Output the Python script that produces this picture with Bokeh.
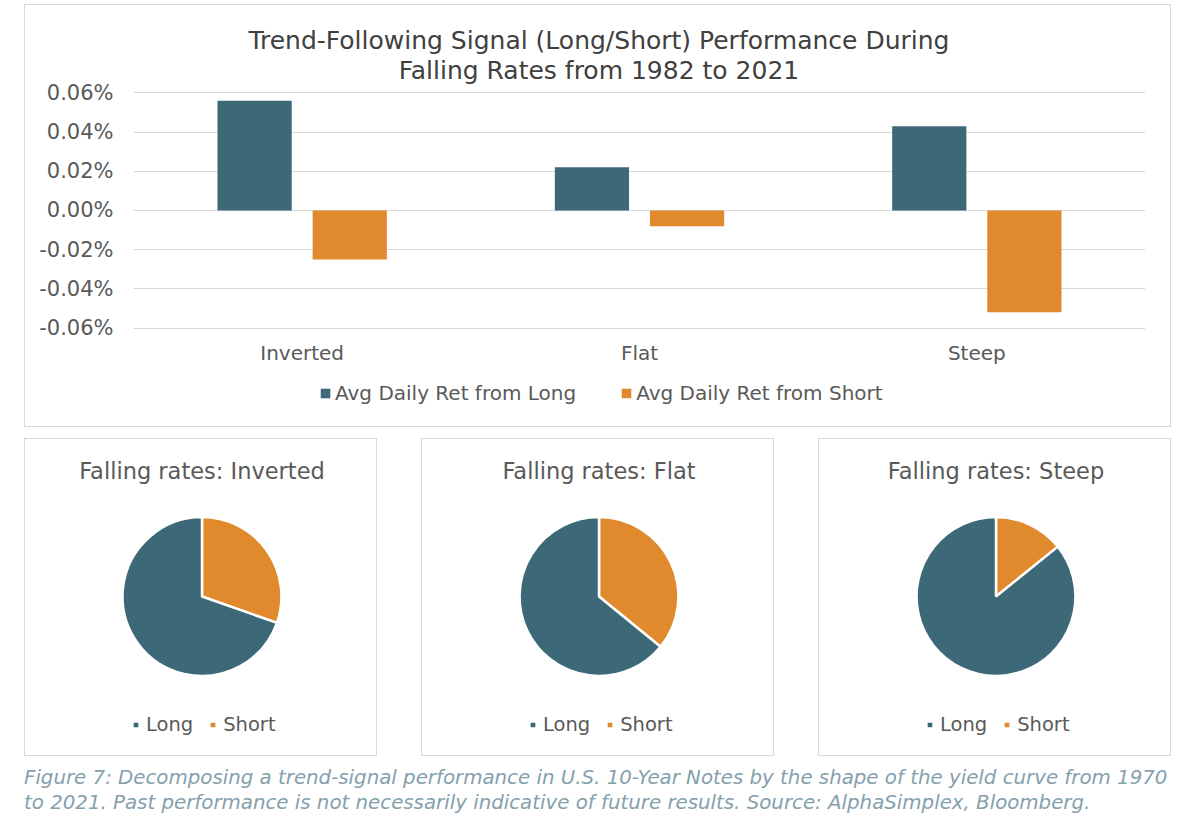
from bokeh.plotting import figure
from bokeh.models import (ColumnDataSource, FactorRange, Range1d, FixedTicker,
                          PrintfTickFormatter, Legend, LegendItem, Div)
from bokeh.transform import dodge
from bokeh.layouts import column, row
from bokeh.embed import file_html
from bokeh.resources import INLINE
from bokeh.core.properties import value
import numpy as np

# ---------------- data ----------------
categories = ["Inverted", "Flat", "Steep"]
ret_long = [0.056, 0.022, 0.043]      # % avg daily return from long signal
ret_short = [-0.025, -0.008, -0.052]  # % avg daily return from short signal
y_ticks = [-0.06, -0.04, -0.02, 0.0, 0.02, 0.04, 0.06]
series_labels = ["Avg Daily Ret from Long", "Avg Daily Ret from Short"]
title_lines = ["Trend-Following Signal (Long/Short) Performance During",
               "Falling Rates from 1982 to 2021"]

pie_titles = ["Falling rates: Inverted", "Falling rates: Flat", "Falling rates: Steep"]
pie_labels = ["Long", "Short"]
share_long = [69.6, 64.1, 85.8]
share_short = [30.4, 35.9, 14.2]

caption_lines = [
    "Figure 7: Decomposing a trend-signal performance in U.S. 10-Year Notes by the shape of the yield curve from 1970",
    "to 2021. Past performance is not necessarily indicative of future results. Source: AlphaSimplex, Bloomberg.",
]

# ---------------- style ----------------
TEAL = "#3c6878"
ORANGE = "#e0892d"
GRID = "#d9d9d9"
TXT = "#595959"
TITLE_C = "#404040"
CAP_C = "#84a0ad"
FONT = "DejaVu Sans"
BOX = {"border": "1px solid #d9d9d9"}

# ---------------- bar chart (layout in pixels) ----------------
BW, BH = 1147, 423            # outer box size
CWB, CHB = BW - 2, BH - 2     # canvas inside the border
LEFT = 108                    # room for y labels
FW = 1010                     # frame width
ZERO = 204                    # px from canvas top to the 0.00% line
PPU = 39 / 0.02               # px per 1 unit (%) on the y axis
y_end = ZERO / PPU
y_start = -(CHB - ZERO) / PPU


def y_at(px_from_top):
    return (ZERO - px_from_top) / PPU


bar = figure(x_range=FactorRange(*categories), y_range=Range1d(y_start, y_end),
             width=BW, height=BH, min_border_left=LEFT,
             min_border_right=CWB - LEFT - FW, min_border_top=0, min_border_bottom=0,
             x_axis_location=None, title=None,
             output_backend="svg", toolbar_location=None, styles=BOX)
src = ColumnDataSource(dict(cat=categories, long=ret_long, short=ret_short))
r_long = bar.vbar(x=dodge("cat", -0.141, range=bar.x_range), top="long", bottom=0,
                  width=0.22, source=src, fill_color=TEAL, line_color=None)
r_short = bar.vbar(x=dodge("cat", 0.141, range=bar.x_range), top="short", bottom=0,
                   width=0.22, source=src, fill_color=ORANGE, line_color=None)

bar.xgrid.grid_line_color = None
bar.ygrid.grid_line_color = GRID
bar.ygrid.grid_line_width = 1
bar.ygrid.ticker = FixedTicker(ticks=y_ticks)
yax = bar.yaxis[0]
yax.ticker = FixedTicker(ticks=y_ticks)
yax.formatter = PrintfTickFormatter(format="%.2f%%")
yax.axis_line_color = None
yax.major_tick_line_color = None
yax.minor_tick_line_color = None
yax.major_tick_out = 0
yax.major_tick_in = 0
yax.major_label_text_font = FONT
yax.major_label_text_color = TXT
yax.major_label_text_font_size = "21px"
yax.major_label_standoff = 20
bar.outline_line_color = None

# category labels under the bars
bar.text(x=categories, y=[y_at(346)] * len(categories), text=categories,
         text_align="center", text_baseline="middle", text_font=value(FONT),
         text_font_size="20px", text_color=TXT)

# two-line title, centred on the whole box
title_x = (CWB / 2 - LEFT) / (FW / len(categories))
bar.text(x=[title_x, title_x], y=[y_at(35), y_at(65)], text=title_lines,
         text_align="center", text_baseline="middle", text_font=value(FONT),
         text_font_size="25px", text_color=TITLE_C)

bar_legend = Legend(items=[LegendItem(label=series_labels[0], renderers=[r_long]),
                           LegendItem(label=series_labels[1], renderers=[r_short])],
                    orientation="horizontal", location=(186, 23),
                    glyph_width=12, glyph_height=12, label_standoff=4, spacing=44,
                    padding=0, margin=0, border_line_color=None,
                    background_fill_alpha=0, label_text_font=FONT,
                    label_text_font_size="20px", label_text_color=TXT)
bar.add_layout(bar_legend, "center")
bar.margin = (4, 0, 0, 24)

# ---------------- pies ----------------
PW, PH = 353, 318
CW, CH = PW - 2, PH - 2
pies = []
for i, ttl in enumerate(pie_titles):
    p = figure(width=PW, height=PH, x_range=Range1d(0, CW), y_range=Range1d(0, CH),
               x_axis_type=None, y_axis_type=None, min_border=0, title=None,
               output_backend="svg", toolbar_location=None, styles=BOX)
    p.outline_line_color = None
    vals = np.array([share_short[i], share_long[i]], dtype=float)
    cum = np.concatenate([[0.0], np.cumsum(vals)]) / vals.sum()
    end = np.pi / 2 - 2 * np.pi * cum[:-1]
    start = np.pi / 2 - 2 * np.pi * cum[1:]
    cx, cy = CW / 2, CH - 156
    colors = [ORANGE, TEAL]
    rends = []
    for k in range(2):
        ps = ColumnDataSource(dict(x=[cx], y=[cy], start=[start[k]], end=[end[k]]))
        rends.append(p.wedge(x="x", y="y", radius=79, start_angle="start",
                             end_angle="end", direction="anticlock", source=ps,
                             fill_color=colors[k], line_color="white", line_width=2.5))
    p.text(x=[CW / 2], y=[CH - 31], text=[ttl], text_align="center",
           text_baseline="middle", text_font=value(FONT), text_font_size="22.5px",
           text_color=TXT)
    lg = Legend(items=[LegendItem(label=pie_labels[0], renderers=[rends[1]]),
                       LegendItem(label=pie_labels[1], renderers=[rends[0]])],
                orientation="horizontal", location=(106, 21),
                glyph_width=9, glyph_height=9, label_standoff=6, spacing=15,
                padding=0, margin=0, border_line_color=None, background_fill_alpha=0,
                label_text_font=FONT, label_text_font_size="19.5px", label_text_color=TXT)
    p.add_layout(lg, "center")
    p.margin = (11, 0, 0, 24 if i == 0 else 44)
    pies.append(p)

# ---------------- caption ----------------
cap = Div(text="<br>".join(caption_lines), width=1168, height=54,
          styles={"font-family": FONT, "font-style": "italic", "font-size": "19.8px",
                  "line-height": "25px", "color": CAP_C, "white-space": "nowrap"})
cap.margin = (9, 0, 0, 24)

layout = column(bar, row(*pies), cap)
open("out.html", "w").write(file_html(layout, INLINE))
